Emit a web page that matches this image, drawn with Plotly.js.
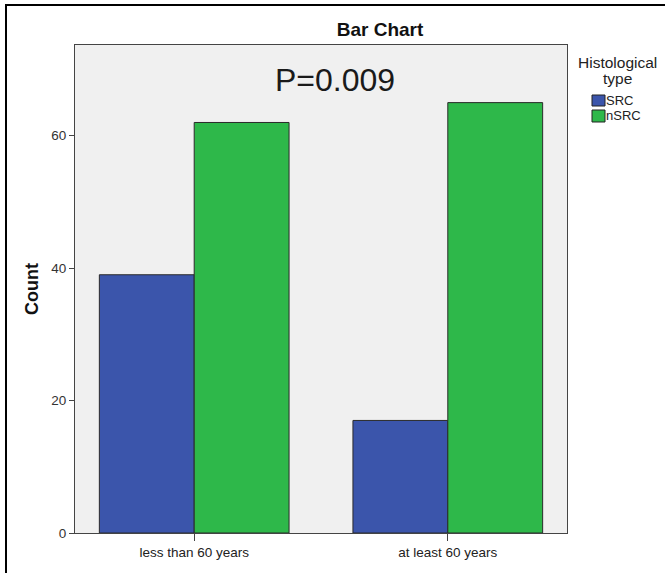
<!DOCTYPE html>
<html>
<head>
<meta charset="utf-8">
<script src="https://cdn.plot.ly/plotly-3.0.1.min.js"></script>
<style>
html,body{margin:0;padding:0;background:#fff;}
#wrap{position:relative;width:665px;height:573px;}
#chart{width:665px;height:573px;}
#frame{position:absolute;left:5px;top:4px;right:0;bottom:0;border-left:2.5px solid #000;border-top:2.5px solid #000;pointer-events:none;}
</style>
</head>
<body>
<div id="wrap"><div id="chart"></div><div id="frame"></div></div>
<script>
const categories = ["less than 60 years", "at least 60 years"];
const seriesNames = ["SRC", "nSRC"];
const srcCounts = [39, 17];
const nsrcCounts = [62, 65];
const yTicks = [0, 20, 40, 60];
const pText = "P=0.009";
const legendTitleLines = ["Histological", "type"];

const colors = ["#3b55ab", "#2eb84a"];
const W = 665, H = 573;
const m = {l: 75, r: 98, t: 45, b: 40};
const pw = W - m.l - m.r, ph = H - m.t - m.b;
const px = x => (x - m.l) / pw;
const py = y => (H - m.b - y) / ph;

const traces = [
  {type: "bar", name: seriesNames[0], x: [0, 1], y: srcCounts,
   marker: {color: colors[0], line: {color: "#2a2a2a", width: 1}}, showlegend: false, hoverinfo: "y"},
  {type: "bar", name: seriesNames[1], x: [0, 1], y: nsrcCounts,
   marker: {color: colors[1], line: {color: "#2a2a2a", width: 1}}, showlegend: false, hoverinfo: "y"}
];

const font = "Liberation Sans, Arial, sans-serif";
const shapes = [];
const annotations = [
  {xref: "paper", yref: "paper", x: px(335), y: py(80), text: pText, showarrow: false,
   xanchor: "center", yanchor: "middle", font: {family: font, size: 32, color: "#1a1a1a"}}
];
const titleY = [62, 78];
legendTitleLines.forEach((t, i) => {
  annotations.push({xref: "paper", yref: "paper", x: px(617), y: py(titleY[i]), text: t, showarrow: false,
    xanchor: "center", yanchor: "middle", font: {family: font, size: 15.5, color: "#222"}});
});
const swY = [[95, 106], [110, 122]];
seriesNames.forEach((n, i) => {
  shapes.push({type: "rect", xref: "paper", yref: "paper",
    x0: px(592), x1: px(605), y0: py(swY[i][1]), y1: py(swY[i][0]),
    fillcolor: colors[i], line: {color: "#222", width: 1}});
  annotations.push({xref: "paper", yref: "paper", x: px(604), y: py((swY[i][0] + swY[i][1]) / 2),
    text: n, showarrow: false, xanchor: "left", yanchor: "middle",
    font: {family: font, size: 13, color: "#222"}});
});

const layout = {
  width: W, height: H,
  margin: m,
  paper_bgcolor: "#fff",
  plot_bgcolor: "#f0f0f0",
  barmode: "group",
  bargap: 0.252,
  bargroupgap: 0,
  title: {text: "<b>Bar Chart</b>", x: 380 / W, xref: "container", xanchor: "center",
          y: 1 - 29.5 / H, yref: "container", yanchor: "middle",
          font: {family: font, size: 19, color: "#111"}},
  xaxis: {range: [-0.47, 1.47], tickvals: [0, 1], ticktext: categories,
          ticks: "outside", ticklen: 7, tickcolor: "#444", showline: true, linecolor: "#444",
          linewidth: 1, mirror: true, showgrid: false, zeroline: false,
          tickfont: {family: font, size: 13.5, color: "#222"}, fixedrange: true},
  yaxis: {range: [0, 73.7], tickvals: yTicks, ticks: "outside", ticklen: 5, tickcolor: "#444",
          showline: true, linecolor: "#444", linewidth: 1, mirror: true, showgrid: false,
          zeroline: false, tickfont: {family: font, size: 13.5, color: "#333"},
          title: {text: "<b>Count</b>", standoff: 7, font: {family: font, size: 18, color: "#111"}},
          fixedrange: true},
  shapes: shapes,
  annotations: annotations,
  showlegend: false
};

Plotly.newPlot("chart", traces, layout, {displayModeBar: false, staticPlot: true});
</script>
</body>
</html>
